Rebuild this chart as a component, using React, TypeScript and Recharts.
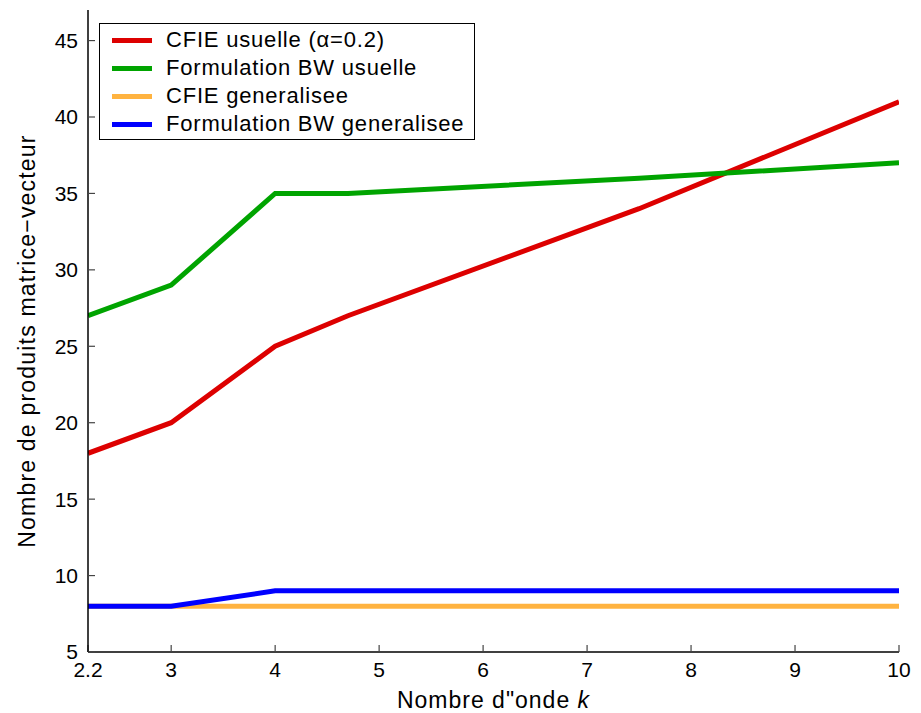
import React from "react";
import { LineChart, Line, XAxis, YAxis, Legend } from "recharts";

const kValues = [2.2, 3, 4, 4.7, 7.5, 10];
const cfieUsuelle = [18, 20, 25, 27, 34, 41];
const bwUsuelle = [27, 29, 35, 35, 36, 37];
const cfieGeneralisee = [8, 8, 8, 8, 8, 8];
const bwGeneralisee = [8, 8, 9, 9, 9, 9];
const xTicks = [2.2, 3, 4, 5, 6, 7, 8, 9, 10];
const yTicks = [5, 10, 15, 20, 25, 30, 35, 40, 45];
const seriesNames = [
  "CFIE usuelle (\u03b1=0.2)",
  "Formulation BW usuelle",
  "CFIE generalisee",
  "Formulation BW generalisee",
];

const data = kValues.map((k, i) => ({
  k,
  cfieU: cfieUsuelle[i],
  bwU: bwUsuelle[i],
  cfieG: cfieGeneralisee[i],
  bwG: bwGeneralisee[i],
}));

const FONT = "'Liberation Sans', Arial, sans-serif";

const renderLegend = (props: any) => {
  const payload = [...(props.payload || [])].sort(
    (a: any, b: any) => seriesNames.indexOf(a.value) - seriesNames.indexOf(b.value)
  );
  return (
    <div
      style={{
        border: "1.5px solid #000",
        background: "#fff",
        padding: "2px 8px 1px 12px",
        fontFamily: FONT,
        fontSize: 22,
        letterSpacing: 0.8,
        width: 376,
        boxSizing: "border-box",
      }}
    >
      {payload.map((p: any) => (
        <div key={p.value} style={{ display: "flex", alignItems: "center", height: 28, whiteSpace: "nowrap" }}>
          <div style={{ width: 40, height: 5, background: p.color, marginRight: 14, flexShrink: 0 }} />
          <span style={{ color: "#000" }}>{p.value}</span>
        </div>
      ))}
    </div>
  );
};

const XLabel = (props: any) => {
  const { viewBox } = props;
  const cx = viewBox.x + viewBox.width / 2;
  return (
    <text
      x={cx}
      y={viewBox.y + 56}
      textAnchor="middle"
      fontFamily={FONT}
      fontSize={23}
      letterSpacing={1}
      fill="#000"
    >
      {'Nombre d"onde '}<tspan fontStyle="italic">k</tspan>
    </text>
  );
};

const YLabel = (props: any) => {
  const { viewBox } = props;
  const cy = viewBox.y + viewBox.height / 2 + 10;
  const x = 35;
  return (
    <text
      x={x}
      y={cy}
      transform={`rotate(-90, ${x}, ${cy})`}
      textAnchor="middle"
      fontFamily={FONT}
      fontSize={23}
      letterSpacing={1.2}
      fill="#000"
    >
      Nombre de produits matrice{"\u2212"}vecteur
    </text>
  );
};

export default function App() {
  return (
    <div style={{ position: "absolute", left: 0, top: 0, background: "#fff" }}>
      <LineChart width={921} height={713} data={data} margin={{ top: 10, right: 22, bottom: 0, left: 0 }}>
        <XAxis
          dataKey="k"
          type="number"
          domain={[2.2, 10]}
          ticks={xTicks}
          allowDataOverflow
          height={61}
          tickSize={-7}
          tickMargin={17}
          stroke="#000"
          strokeWidth={1.5}
          tick={{ fill: "#000", fontSize: 21, fontFamily: FONT }}
          tickLine={{ stroke: "#444", strokeWidth: 1.2 }}
          interval={0}
          label={<XLabel />}
        />
        <XAxis
          xAxisId="top"
          orientation="top"
          dataKey="k"
          type="number"
          domain={[2.2, 10]}
          ticks={xTicks}
          allowDataOverflow
          tickSize={-7}
          height={0}
          tick={false}
          stroke="#000"
          strokeWidth={1.5}
          tickLine={{ stroke: "#444", strokeWidth: 1.2 }}
          interval={0}
        />
        <YAxis
          type="number"
          domain={[5, 47]}
          ticks={yTicks}
          allowDataOverflow
          width={88}
          tickSize={-7}
          tickMargin={17}
          stroke="#000"
          strokeWidth={1.5}
          tick={{ fill: "#000", fontSize: 21, fontFamily: FONT }}
          tickLine={{ stroke: "#444", strokeWidth: 1.2 }}
          interval={0}
          label={<YLabel />}
        />
        <YAxis
          yAxisId="right"
          orientation="right"
          type="number"
          domain={[5, 47]}
          ticks={yTicks}
          allowDataOverflow
          width={0}
          tickSize={-7}
          tick={false}
          stroke="#000"
          strokeWidth={1.5}
          tickLine={{ stroke: "#444", strokeWidth: 1.2 }}
          interval={0}
        />
        <Legend
          content={renderLegend}
          layout="vertical"
          verticalAlign="middle"
          align="center"
          wrapperStyle={{ position: "absolute", left: 99, top: 23, width: 376 }}
        />
        <Line dataKey="cfieU" name={seriesNames[0]} stroke="#dd0000" strokeWidth={5} dot={false} isAnimationActive={false} />
        <Line dataKey="bwU" name={seriesNames[1]} stroke="#00a400" strokeWidth={5} dot={false} isAnimationActive={false} />
        <Line dataKey="cfieG" name={seriesNames[2]} stroke="#ffb340" strokeWidth={5} dot={false} isAnimationActive={false} />
        <Line dataKey="bwG" name={seriesNames[3]} stroke="#0000ff" strokeWidth={5} dot={false} isAnimationActive={false} />
      </LineChart>
    </div>
  );
}
